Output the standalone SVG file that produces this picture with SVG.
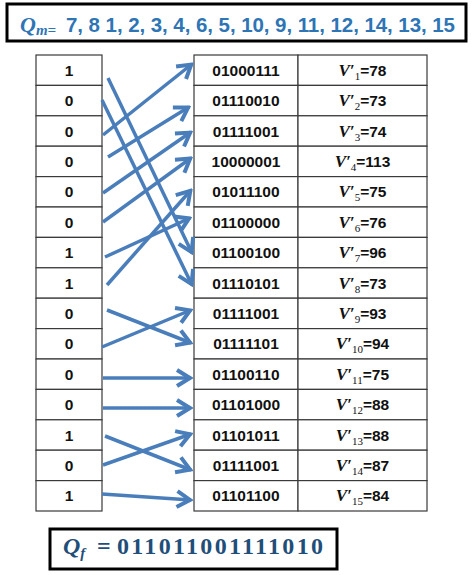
<svg xmlns="http://www.w3.org/2000/svg" width="474" height="575" viewBox="0 0 474 575">
<defs>
<style>
.frame{fill:#fff;stroke:#000;stroke-width:3}
.cell{fill:#fff;stroke:#3a3a3a;stroke-width:1.2}
.t{font-family:"Liberation Sans",Arial,sans-serif;font-weight:bold;font-size:15.5px;fill:#111;text-anchor:middle}
.v{font-family:"Liberation Serif","Times New Roman",serif;font-style:italic;font-weight:bold;font-size:17px}
.sub{font-family:"Liberation Serif","Times New Roman",serif;font-size:11px;font-weight:normal}
.arr{stroke:#4a7ebb;stroke-width:3.5;fill:none;marker-end:url(#ah)}
</style>
<marker id="ah" markerUnits="userSpaceOnUse" viewBox="-18 -10 20 20" markerWidth="20" markerHeight="20" refX="0" refY="0" orient="auto">
<path d="M-14,-8 L-1,0 L-14,8" fill="none" stroke="#4a7ebb" stroke-width="4" stroke-linejoin="miter"/>
</marker>
</defs>
<rect width="474" height="575" fill="#fff"/>

<g id="header">
<rect class="frame" x="7" y="4" width="459" height="37"/>
<text x="20" y="32" font-family="Liberation Serif,serif" font-style="italic" font-weight="bold" font-size="22" fill="#2e75b6">Q<tspan font-size="15" dy="3">m=</tspan></text>
<text x="66" y="32" font-family="Liberation Sans,Arial,sans-serif" font-weight="bold" font-size="20.5" fill="#2e75b6" textLength="389" lengthAdjust="spacing">7, 8 1, 2, 3, 4, 6, 5, 10, 9, 11, 12, 14, 13, 15</text>
</g>

<g id="left-column">
<g id="L1"><rect class="cell" x="36" y="55" width="66" height="30.4"/><text class="t" x="69" y="75.7">1</text></g>
<g id="L2"><rect class="cell" x="36" y="85.4" width="66" height="30.4"/><text class="t" x="69" y="106.1">0</text></g>
<g id="L3"><rect class="cell" x="36" y="115.8" width="66" height="30.4"/><text class="t" x="69" y="136.5">0</text></g>
<g id="L4"><rect class="cell" x="36" y="146.2" width="66" height="30.4"/><text class="t" x="69" y="166.9">0</text></g>
<g id="L5"><rect class="cell" x="36" y="176.6" width="66" height="30.4"/><text class="t" x="69" y="197.3">0</text></g>
<g id="L6"><rect class="cell" x="36" y="207" width="66" height="30.4"/><text class="t" x="69" y="227.7">0</text></g>
<g id="L7"><rect class="cell" x="36" y="237.4" width="66" height="30.4"/><text class="t" x="69" y="258.1">1</text></g>
<g id="L8"><rect class="cell" x="36" y="267.8" width="66" height="30.4"/><text class="t" x="69" y="288.5">1</text></g>
<g id="L9"><rect class="cell" x="36" y="298.2" width="66" height="30.4"/><text class="t" x="69" y="318.9">0</text></g>
<g id="L10"><rect class="cell" x="36" y="328.6" width="66" height="30.4"/><text class="t" x="69" y="349.3">0</text></g>
<g id="L11"><rect class="cell" x="36" y="359" width="66" height="30.4"/><text class="t" x="69" y="379.7">0</text></g>
<g id="L12"><rect class="cell" x="36" y="389.4" width="66" height="30.4"/><text class="t" x="69" y="410.1">0</text></g>
<g id="L13"><rect class="cell" x="36" y="419.8" width="66" height="30.4"/><text class="t" x="69" y="440.5">1</text></g>
<g id="L14"><rect class="cell" x="36" y="450.2" width="66" height="30.4"/><text class="t" x="69" y="470.9">0</text></g>
<g id="L15"><rect class="cell" x="36" y="480.6" width="66" height="30.4"/><text class="t" x="69" y="501.3">1</text></g>
</g>

<g id="right-table">
<g id="R1"><rect class="cell" x="194" y="55" width="104" height="30.4"/><rect class="cell" x="298" y="55" width="129" height="30.4"/><text class="t" x="246" y="75.7">01000111</text><text class="t" x="362.5" y="75.7"><tspan class="v">V′</tspan><tspan class="sub" dy="4">1</tspan><tspan dy="-4">=78</tspan></text></g>
<g id="R2"><rect class="cell" x="194" y="85.4" width="104" height="30.4"/><rect class="cell" x="298" y="85.4" width="129" height="30.4"/><text class="t" x="246" y="106.1">01110010</text><text class="t" x="362.5" y="106.1"><tspan class="v">V′</tspan><tspan class="sub" dy="4">2</tspan><tspan dy="-4">=73</tspan></text></g>
<g id="R3"><rect class="cell" x="194" y="115.8" width="104" height="30.4"/><rect class="cell" x="298" y="115.8" width="129" height="30.4"/><text class="t" x="246" y="136.5">01111001</text><text class="t" x="362.5" y="136.5"><tspan class="v">V′</tspan><tspan class="sub" dy="4">3</tspan><tspan dy="-4">=74</tspan></text></g>
<g id="R4"><rect class="cell" x="194" y="146.2" width="104" height="30.4"/><rect class="cell" x="298" y="146.2" width="129" height="30.4"/><text class="t" x="246" y="166.9">10000001</text><text class="t" x="362.5" y="166.9"><tspan class="v">V′</tspan><tspan class="sub" dy="4">4</tspan><tspan dy="-4">=113</tspan></text></g>
<g id="R5"><rect class="cell" x="194" y="176.6" width="104" height="30.4"/><rect class="cell" x="298" y="176.6" width="129" height="30.4"/><text class="t" x="246" y="197.3">01011100</text><text class="t" x="362.5" y="197.3"><tspan class="v">V′</tspan><tspan class="sub" dy="4">5</tspan><tspan dy="-4">=75</tspan></text></g>
<g id="R6"><rect class="cell" x="194" y="207" width="104" height="30.4"/><rect class="cell" x="298" y="207" width="129" height="30.4"/><text class="t" x="246" y="227.7">01100000</text><text class="t" x="362.5" y="227.7"><tspan class="v">V′</tspan><tspan class="sub" dy="4">6</tspan><tspan dy="-4">=76</tspan></text></g>
<g id="R7"><rect class="cell" x="194" y="237.4" width="104" height="30.4"/><rect class="cell" x="298" y="237.4" width="129" height="30.4"/><text class="t" x="246" y="258.1">01100100</text><text class="t" x="362.5" y="258.1"><tspan class="v">V′</tspan><tspan class="sub" dy="4">7</tspan><tspan dy="-4">=96</tspan></text></g>
<g id="R8"><rect class="cell" x="194" y="267.8" width="104" height="30.4"/><rect class="cell" x="298" y="267.8" width="129" height="30.4"/><text class="t" x="246" y="288.5">01110101</text><text class="t" x="362.5" y="288.5"><tspan class="v">V′</tspan><tspan class="sub" dy="4">8</tspan><tspan dy="-4">=73</tspan></text></g>
<g id="R9"><rect class="cell" x="194" y="298.2" width="104" height="30.4"/><rect class="cell" x="298" y="298.2" width="129" height="30.4"/><text class="t" x="246" y="318.9">01111001</text><text class="t" x="362.5" y="318.9"><tspan class="v">V′</tspan><tspan class="sub" dy="4">9</tspan><tspan dy="-4">=93</tspan></text></g>
<g id="R10"><rect class="cell" x="194" y="328.6" width="104" height="30.4"/><rect class="cell" x="298" y="328.6" width="129" height="30.4"/><text class="t" x="246" y="349.3">01111101</text><text class="t" x="362.5" y="349.3"><tspan class="v">V′</tspan><tspan class="sub" dy="4">10</tspan><tspan dy="-4">=94</tspan></text></g>
<g id="R11"><rect class="cell" x="194" y="359" width="104" height="30.4"/><rect class="cell" x="298" y="359" width="129" height="30.4"/><text class="t" x="246" y="379.7">01100110</text><text class="t" x="362.5" y="379.7"><tspan class="v">V′</tspan><tspan class="sub" dy="4">11</tspan><tspan dy="-4">=75</tspan></text></g>
<g id="R12"><rect class="cell" x="194" y="389.4" width="104" height="30.4"/><rect class="cell" x="298" y="389.4" width="129" height="30.4"/><text class="t" x="246" y="410.1">01101000</text><text class="t" x="362.5" y="410.1"><tspan class="v">V′</tspan><tspan class="sub" dy="4">12</tspan><tspan dy="-4">=88</tspan></text></g>
<g id="R13"><rect class="cell" x="194" y="419.8" width="104" height="30.4"/><rect class="cell" x="298" y="419.8" width="129" height="30.4"/><text class="t" x="246" y="440.5">01101011</text><text class="t" x="362.5" y="440.5"><tspan class="v">V′</tspan><tspan class="sub" dy="4">13</tspan><tspan dy="-4">=88</tspan></text></g>
<g id="R14"><rect class="cell" x="194" y="450.2" width="104" height="30.4"/><rect class="cell" x="298" y="450.2" width="129" height="30.4"/><text class="t" x="246" y="470.9">01111001</text><text class="t" x="362.5" y="470.9"><tspan class="v">V′</tspan><tspan class="sub" dy="4">14</tspan><tspan dy="-4">=87</tspan></text></g>
<g id="R15"><rect class="cell" x="194" y="480.6" width="104" height="30.4"/><rect class="cell" x="298" y="480.6" width="129" height="30.4"/><text class="t" x="246" y="501.3">01101100</text><text class="t" x="362.5" y="501.3"><tspan class="v">V′</tspan><tspan class="sub" dy="4">15</tspan><tspan dy="-4">=84</tspan></text></g>
</g>

<g id="connectors">
<line class="arr" x1="108" y1="78" x2="192" y2="253"/>
<line class="arr" x1="102" y1="100" x2="192" y2="285"/>
<line class="arr" x1="103" y1="135" x2="192" y2="64"/>
<line class="arr" x1="108" y1="157" x2="189" y2="107"/>
<line class="arr" x1="103" y1="193" x2="191" y2="132"/>
<line class="arr" x1="103" y1="222" x2="191" y2="158"/>
<line class="arr" x1="105" y1="257" x2="190" y2="218"/>
<line class="arr" x1="107" y1="285" x2="191" y2="190"/>
<line class="arr" x1="107" y1="310" x2="191" y2="343"/>
<line class="arr" x1="102" y1="347" x2="191" y2="310"/>
<line class="arr" x1="103" y1="378" x2="191" y2="378"/>
<line class="arr" x1="103" y1="408" x2="191" y2="408"/>
<line class="arr" x1="105" y1="436" x2="191" y2="470"/>
<line class="arr" x1="103" y1="465" x2="191" y2="434"/>
<line class="arr" x1="102" y1="494" x2="191" y2="500"/>
</g>

<g id="footer">
<rect class="frame" x="50" y="529" width="287" height="40"/>
<text x="63" y="554" font-family="Liberation Serif,serif" font-style="italic" font-weight="bold" font-size="24" fill="#1f4e79">Q<tspan font-size="15" dy="4">f</tspan></text>
<text x="97" y="554" font-family="Liberation Serif,serif" font-weight="bold" font-size="24" fill="#1f4e79">=</text>
<text x="117" y="554" font-family="Liberation Serif,serif" font-weight="bold" font-size="24" fill="#1f4e79" textLength="206" lengthAdjust="spacing">011011001111010</text>
</g>
</svg>
